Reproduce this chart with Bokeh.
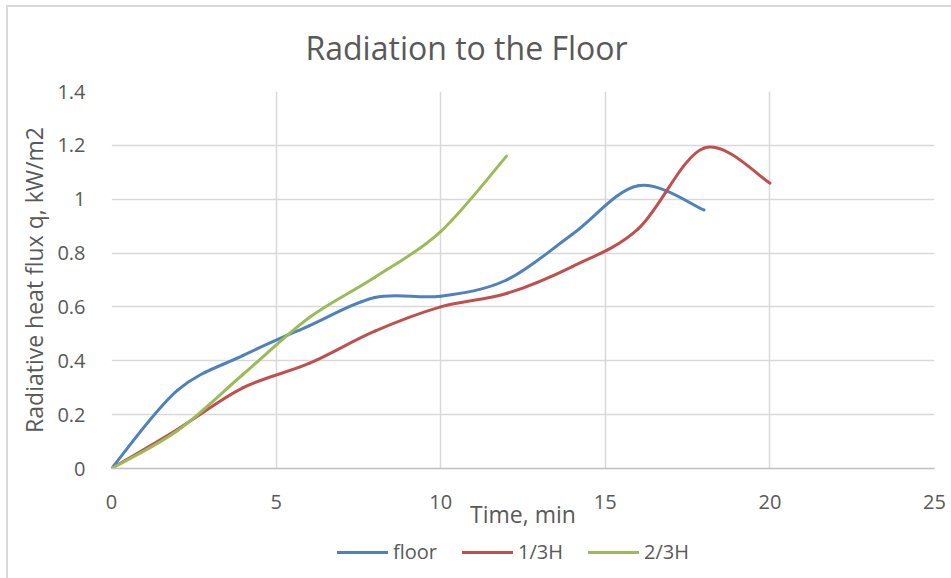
from bokeh.plotting import figure
from bokeh.layouts import column
from bokeh.models import (Range1d, FixedTicker, CustomJSTickFormatter, Legend,
                          LegendItem, ColumnDataSource, InlineStyleSheet)
from bokeh.embed import file_html
from bokeh.resources import INLINE

# ---- data ----
time_floor = [0, 2, 4, 6, 8, 10, 12, 14, 16, 18]
q_floor = [0, 0.29, 0.42, 0.53, 0.635, 0.64, 0.70, 0.87, 1.05, 0.96]

time_13h = [0, 2, 4, 6, 8, 10, 12, 14, 16, 18, 20]
q_13h = [0, 0.145, 0.30, 0.39, 0.51, 0.60, 0.65, 0.75, 0.89, 1.19, 1.06]

time_23h = [0, 2, 4, 6, 8, 10, 12]
q_23h = [0, 0.14, 0.35, 0.56, 0.71, 0.88, 1.16]

series_names = ["floor", "1/3H", "2/3H"]
series_colors = ["#4F81BD", "#C0504D", "#9BBB59"]

x_ticks = [0, 5, 10, 15, 20, 25]
y_ticks = [0, 0.2, 0.4, 0.6, 0.8, 1.0, 1.2, 1.4]

FONT = "Open Sans"
TXT = "#595959"


def smooth_segments(xs, ys):
    """Bezier control points for a smoothed (Excel-like) line through the points."""
    n = len(xs)
    d = dict(x0=[], y0=[], x1=[], y1=[], cx0=[], cy0=[], cx1=[], cy1=[])
    for i in range(n - 1):
        ip = max(i - 1, 0)
        inx = min(i + 2, n - 1)
        d["x0"].append(xs[i]); d["y0"].append(ys[i])
        d["x1"].append(xs[i + 1]); d["y1"].append(ys[i + 1])
        d["cx0"].append(xs[i] + (xs[i + 1] - xs[ip]) / 6.0)
        d["cy0"].append(ys[i] + (ys[i + 1] - ys[ip]) / 6.0)
        d["cx1"].append(xs[i + 1] - (xs[inx] - xs[i]) / 6.0)
        d["cy1"].append(ys[i + 1] - (ys[inx] - ys[i]) / 6.0)
    return ColumnDataSource(d)


MAIN_H = 534
p = figure(width=951, height=MAIN_H, output_backend="svg", toolbar_location=None,
           x_range=Range1d(0, 25), y_range=Range1d(0, 1.4),
           min_border_left=111, min_border_right=17, min_border_top=91,
           min_border_bottom=66)

p.title.text = "Radiation to the Floor"
p.title.text_font = FONT
p.title.text_font_size = "32px"
p.title.text_font_style = "normal"
p.title.text_color = TXT
p.title.align = "left"
p.title.offset = 194
p.title.standoff = 45

p.outline_line_color = None
p.background_fill_color = "white"
p.border_fill_color = "white"

# grid
for g in (p.xgrid, p.ygrid):
    g.grid_line_color = "#D9D9D9"
    g.grid_line_width = 1.5
p.xgrid.ticker = FixedTicker(ticks=x_ticks)
p.ygrid.ticker = FixedTicker(ticks=y_ticks)

# axes
p.xaxis.ticker = FixedTicker(ticks=x_ticks)
p.yaxis.ticker = FixedTicker(ticks=y_ticks)
p.yaxis.formatter = CustomJSTickFormatter(code="return String(Math.round(tick*10)/10);")
p.xaxis.axis_label = "Time, min"
p.yaxis.axis_label = "Radiative heat flux q, kW/m2"
for ax in (p.xaxis[0], p.yaxis[0]):
    ax.major_tick_line_color = None
    ax.minor_tick_line_color = None
    ax.major_label_text_font = FONT
    ax.major_label_text_font_size = "20px"
    ax.major_label_text_color = TXT
    ax.axis_label_text_font = FONT
    ax.axis_label_text_font_size = "23px"
    ax.axis_label_text_font_style = "normal"
    ax.axis_label_text_color = TXT
p.yaxis.axis_line_color = None
p.yaxis.major_label_standoff = 20
p.yaxis.axis_label_standoff = 4
p.xaxis.axis_line_color = "#BFBFBF"
p.xaxis.axis_line_width = 1.5
p.xaxis.major_label_standoff = 20
p.xaxis.axis_label_standoff = -14

# ---- legend strip below the chart (its ranges lie away from the data,
#      so only the legend is visible there) ----
LEG_H = 578 - MAIN_H
pl = figure(width=951, height=LEG_H, output_backend="svg", toolbar_location=None,
            x_range=Range1d(1000, 1001), y_range=Range1d(1000, 1001),
            min_border=0, min_border_left=0, min_border_right=0,
            min_border_top=0, min_border_bottom=0)
pl.axis.visible = False
pl.grid.visible = False
pl.outline_line_color = None
pl.background_fill_color = "white"
pl.border_fill_color = "white"

items = []
for name, color, xs, ys in zip(series_names, series_colors,
                               [time_floor, time_13h, time_23h],
                               [q_floor, q_13h, q_23h]):
    src = smooth_segments(xs, ys)
    kw = dict(x0="x0", y0="y0", x1="x1", y1="y1", cx0="cx0", cy0="cy0",
              cx1="cx1", cy1="cy1", source=src, line_color=color,
              line_width=3, line_cap="round", line_join="round")
    p.bezier(**kw)
    r = pl.bezier(**kw)
    items.append(LegendItem(label=name, renderers=[r]))

legend = Legend(items=items, orientation="horizontal", location=(226, 13),
                glyph_width=51, glyph_height=20, label_standoff=5, spacing=25,
                label_text_font=FONT, label_text_font_size="20px",
                label_text_color=TXT, border_line_color=None,
                background_fill_alpha=0, padding=4, margin=0)
pl.add_layout(legend)

# light grey chart-area frame (left and top edges visible in the window)
frame_css = InlineStyleSheet(css="""
:host { position: relative; }
:host::after {
  content: "";
  position: absolute;
  left: 6px; top: 5px;
  width: calc(100% - 6px); height: calc(100% - 5px);
  border-left: 2px solid #D9D9D9;
  border-top: 2px solid #D9D9D9;
  box-sizing: border-box;
  pointer-events: none;
  z-index: 10;
}
""")

layout = column(p, pl, spacing=0, stylesheets=[frame_css])
open("out.html", "w").write(file_html(layout, INLINE))
